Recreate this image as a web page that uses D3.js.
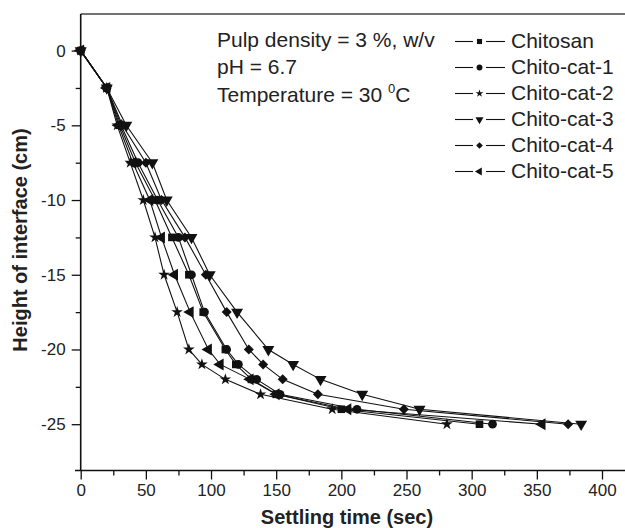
<!DOCTYPE html>
<html>
<head>
<meta charset="utf-8">
<script src="https://cdn.jsdelivr.net/npm/d3@7"></script>
<style>
  body { margin: 0; background: #fff; }
  svg { display: block; font-family: "Liberation Sans", Arial, sans-serif; }
  .tick text { fill: #222; font-size: 17px; }
</style>
</head>
<body>
<svg width="625" height="528"></svg>
<script>
// heights of the interface (cm), shared by every series
var heights = [0, -2.5, -5, -7.5, -10, -12.5, -15, -17.5, -20, -21, -22, -23, -24, -25];

// settling times (sec)
var chitosan  = [0, 20, 30, 42, 57, 70, 83, 94, 111, 119, 131, 150, 200, 306];
var chitoCat1 = [0, 20, 31, 44, 59, 75, 85, 95, 112, 121, 135, 153, 212, 316];
var chitoCat2 = [0, 20, 28, 38, 48, 57, 64, 74, 83, 93, 111, 138, 193, 281];
var chitoCat3 = [0, 20, 35, 55, 66, 85, 99, 120, 144, 163, 184, 216, 260, 384];
var chitoCat4 = [0, 20, 32, 50, 62, 80, 96, 112, 129, 140, 155, 182, 248, 374];
var chitoCat5 = [0, 20, 29, 40, 53, 62, 72, 84, 98, 107, 130, 150, 205, 354];

var seriesNames = ["Chitosan", "Chito-cat-1", "Chito-cat-2", "Chito-cat-3", "Chito-cat-4", "Chito-cat-5"];
var seriesTimes = [chitosan, chitoCat1, chitoCat2, chitoCat3, chitoCat4, chitoCat5];
var seriesSymbols = ["square", "circle", "star", "down", "diamond", "left"];

var xMajor = [0, 50, 100, 150, 200, 250, 300, 350, 400];
var xMinor = [25, 75, 125, 175, 225, 275, 325, 375];
var yMajor = [0, -5, -10, -15, -20, -25];
var yMinor = [-2.5, -7.5, -12.5, -17.5, -22.5];

var annotation = ["Pulp density = 3 %, w/v", "pH = 6.7"];

var svg = d3.select("svg");

var x = d3.scaleLinear().domain([0, 400]).range([80.7, 602]);
var y = d3.scaleLinear().domain([-25, 0]).range([424.2, 50.6]);
var plotTop = 14, plotBottom = 470.5, plotRight = 625;
var plain = function(d) { return String(d); }; // keep the ascii hyphen for negatives

// frame: top line, y axis, x axis
svg.append("line")
  .attr("x1", x(0)).attr("x2", plotRight)
  .attr("y1", plotTop).attr("y2", plotTop)
  .attr("stroke", "#444").attr("stroke-width", 1.6);

var xAxis = svg.append("g").attr("transform", "translate(0," + plotBottom + ")");
xAxis.call(d3.axisBottom(x).tickValues(xMajor).tickFormat(plain).tickSize(9).tickSizeOuter(0).tickPadding(4));
xAxis.append("g").call(d3.axisBottom(x).tickValues(xMinor).tickSize(5).tickFormat(""));
xAxis.selectAll(".domain").remove();
xAxis.selectAll("line").attr("stroke", "#111").attr("stroke-width", 1.3);
svg.append("line")
  .attr("x1", 75).attr("x2", plotRight)
  .attr("y1", plotBottom).attr("y2", plotBottom)
  .attr("stroke", "#111").attr("stroke-width", 1.6);

var yAxis = svg.append("g").attr("transform", "translate(" + x(0) + ",0)");
yAxis.call(d3.axisLeft(y).tickValues(yMajor).tickFormat(plain).tickSize(9).tickSizeOuter(0).tickPadding(6));
yAxis.append("g").call(d3.axisLeft(y).tickValues(yMinor).tickSize(5).tickFormat(""));
yAxis.selectAll(".domain").remove();
yAxis.selectAll("line").attr("stroke", "#111").attr("stroke-width", 1.3);
svg.append("line")
  .attr("x1", x(0)).attr("x2", x(0))
  .attr("y1", plotTop).attr("y2", plotBottom)
  .attr("stroke", "#111").attr("stroke-width", 1.6);

// axis titles
svg.append("text")
  .attr("x", 347).attr("y", 524)
  .attr("text-anchor", "middle")
  .attr("font-weight", "bold").attr("font-size", 20).attr("fill", "#222")
  .text("Settling time (sec)");
svg.append("text")
  .attr("transform", "translate(27,240) rotate(-90)")
  .attr("text-anchor", "middle")
  .attr("font-weight", "bold").attr("font-size", 20).attr("fill", "#222")
  .text("Height of interface (cm)");

function symbolPath(kind, size) {
  var type = d3.symbolSquare;
  if (kind == "circle") type = d3.symbolCircle;
  if (kind == "star") type = d3.symbolStar;
  if (kind == "down" || kind == "left") type = d3.symbolTriangle;
  return d3.symbol(type, size)();
}
function symbolRotate(kind) {
  if (kind == "down") return " rotate(180)";
  if (kind == "left") return " rotate(-90)";
  if (kind == "diamond") return " rotate(45)";
  return "";
}
var plotSize = { square: 58, circle: 60, star: 42, down: 62, diamond: 50, left: 62 };

var line = d3.line()
  .x(function(d) { return x(d.t); })
  .y(function(d) { return y(d.h); });

var series = seriesNames.map(function(name, i) {
  return {
    name: name,
    symbol: seriesSymbols[i],
    points: seriesTimes[i].map(function(t, j) { return { t: t, h: heights[j] }; })
  };
});

var lines = svg.append("g").attr("class", "lines");
lines.selectAll("path")
  .data(series)
  .enter().append("path")
  .attr("d", function(d) { return line(d.points); })
  .attr("fill", "none")
  .attr("stroke", "#111")
  .attr("stroke-width", 1.1);

var marks = svg.append("g").attr("class", "marks");
series.forEach(function(s) {
  marks.selectAll(null)
    .data(s.points)
    .enter().append("path")
    .attr("d", symbolPath(s.symbol, plotSize[s.symbol]))
    .attr("transform", function(d) { return "translate(" + x(d.t) + "," + y(d.h) + ")" + symbolRotate(s.symbol); })
    .attr("fill", "#111");
});

// conditions text
var notes = svg.append("g").attr("font-size", 21).attr("fill", "#222");
notes.selectAll("text.note")
  .data(annotation)
  .enter().append("text")
  .attr("class", "note")
  .attr("x", 217)
  .attr("y", function(d, i) { return 46.5 + i * 27.5; })
  .text(function(d) { return d; });
var temp = notes.append("text").attr("x", 217).attr("y", 101.5);
temp.append("tspan").text("Temperature = 30 ");
temp.append("tspan").attr("dy", -9).attr("font-size", 13).text("0");
temp.append("tspan").attr("dy", 9).text("C");

// legend
var legend = svg.append("g").attr("class", "legend");
var row = legend.selectAll("g")
  .data(series)
  .enter().append("g")
  .attr("transform", function(d, i) { return "translate(0," + (48.3 + i * 26) + ")"; });
row.append("line")
  .attr("x1", 455).attr("x2", 473).attr("y1", -6.8).attr("y2", -6.8)
  .attr("stroke", "#111").attr("stroke-width", 1.1);
row.append("line")
  .attr("x1", 486).attr("x2", 505).attr("y1", -6.8).attr("y2", -6.8)
  .attr("stroke", "#111").attr("stroke-width", 1.1);
row.append("path")
  .attr("d", function(d) { return symbolPath(d.symbol, plotSize[d.symbol] * 0.45); })
  .attr("transform", function(d) { return "translate(479.5,-6.8)" + symbolRotate(d.symbol); })
  .attr("fill", "#111");
row.append("text")
  .attr("x", 511)
  .attr("font-size", 21).attr("fill", "#222")
  .text(function(d) { return d.name; });
</script>
</body>
</html>
